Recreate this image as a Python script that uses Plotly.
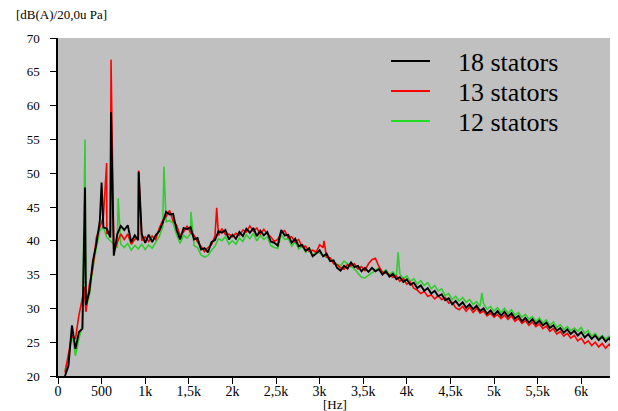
import numpy as np
import plotly.graph_objects as go

# ---------------- data ----------------
grid_start_hz = 80
grid_step_hz = 40

level_18 = [
    20.0, 21.5, 27.5, 24.0, 26.5, 27.0, 30.5, 32.5, 37.0, 39.5,
    43.0, 42.0, 41.8, 40.5, 37.8, 41.0, 42.2, 41.6, 42.3, 39.8,
    40.8, 40.1, 41.0, 39.7, 40.9, 39.8, 40.8, 41.4, 42.6, 44.3,
    43.9, 44.0, 41.6, 40.2, 41.9, 41.7, 42.0, 40.2, 40.4, 38.7,
    38.9, 38.3, 39.8, 40.1, 41.4, 41.2, 41.6, 40.2, 40.9, 40.3,
    41.3, 40.7, 41.8, 41.2, 41.9, 40.7, 41.5, 40.8, 41.3, 39.9,
    39.7, 39.3, 41.6, 40.8, 40.9, 39.7, 40.3, 39.2, 39.4, 38.5,
    38.9, 37.7, 38.1, 38.6, 37.7, 38.1, 37.0, 37.1, 36.0, 35.6,
    36.3, 35.9, 36.8, 36.1, 36.3, 35.5, 36.0, 35.4, 36.0, 35.5,
    35.8, 35.0, 35.5, 34.7, 35.1, 34.3, 34.6, 33.9, 34.3, 33.5,
    33.8, 33.0, 33.4, 32.6, 33.0, 32.2, 32.6, 31.8, 32.1, 31.2,
    31.5, 30.6, 31.1, 30.4, 30.9, 30.1, 30.6, 29.9, 30.4, 29.6,
    30.0, 29.2, 29.7, 29.0, 29.6, 28.9, 29.5, 28.8, 29.3, 28.5,
    28.9, 28.1, 28.6, 27.9, 28.4, 27.7, 28.2, 27.5, 27.9, 27.1,
    27.5, 26.7, 27.1, 26.4, 26.9, 26.2, 26.7, 26.0, 26.5, 25.7,
    26.2, 25.5, 26.0, 25.3, 25.8, 25.1, 25.6, 24.8, 25.3,
]
level_13 = [
    20.5, 23.5, 26.0, 25.5, 29.0, 31.5, 29.5, 33.5, 36.0, 40.5,
    42.0, 43.5, 41.0, 41.5, 38.5, 39.8, 41.0, 40.2, 41.0, 39.5,
    40.2, 40.5, 40.0, 40.6, 39.9, 40.7, 40.2, 41.8, 43.0, 43.6,
    44.5, 42.9, 42.3, 40.8, 41.3, 42.2, 41.2, 40.8, 39.8, 39.2,
    38.4, 39.0, 39.4, 40.7, 40.8, 41.8, 40.9, 41.0, 40.6, 41.1,
    40.8, 41.6, 41.3, 42.2, 41.4, 41.9, 41.0, 41.7, 41.0, 40.6,
    39.9, 40.2, 41.2, 41.5, 40.4, 40.6, 39.8, 40.2, 39.1, 39.2,
    38.4, 38.6, 38.3, 39.4, 39.0, 37.6, 37.5, 36.6, 36.5, 36.0,
    35.8, 36.5, 36.3, 36.6, 35.8, 36.2, 35.6, 36.6, 37.2, 37.4,
    36.2, 35.4, 35.2, 35.0, 34.6, 34.8, 34.0, 34.4, 33.6, 33.9,
    33.0, 32.7, 32.2, 32.5, 31.8, 32.0, 31.4, 31.9, 31.3, 31.6,
    30.8, 30.9, 30.1, 29.8, 30.3, 29.6, 30.2, 29.4, 30.0, 29.3,
    29.6, 28.9, 29.3, 28.7, 29.1, 28.5, 29.0, 28.4, 28.9, 28.1,
    28.5, 27.8, 28.2, 27.5, 28.0, 27.3, 27.7, 27.0, 27.4, 26.6,
    27.0, 26.2, 26.6, 25.9, 26.3, 25.6, 26.0, 25.2, 25.6, 24.8,
    25.2, 24.5, 25.0, 24.3, 24.8, 24.1, 24.7, 24.0, 24.6,
]
level_12 = [
    20.8, 22.5, 26.5, 23.0, 25.5, 27.5, 30.0, 32.0, 36.0, 39.0,
    41.5, 42.0, 40.5, 40.0, 39.5, 39.0, 39.5, 39.0, 39.6, 38.6,
    39.3, 38.8, 39.5, 38.7, 39.4, 38.9, 39.8, 40.6, 42.0, 42.8,
    43.0, 42.6, 40.9, 39.6, 40.8, 40.4, 41.0, 39.3, 39.0, 37.9,
    37.6, 37.8, 38.6, 39.2, 40.3, 40.0, 40.6, 39.5, 40.0, 39.5,
    40.4, 39.9, 40.9, 40.3, 41.1, 40.0, 40.8, 40.2, 40.6, 39.3,
    39.0, 38.9, 40.9, 40.2, 40.3, 39.2, 39.9, 38.8, 39.2, 38.3,
    38.9, 37.8, 38.3, 38.2, 37.9, 37.6, 37.3, 36.9, 36.5, 36.3,
    37.0, 36.6, 36.2, 35.8, 35.2, 34.6, 34.5, 34.9, 35.3, 35.6,
    36.0, 35.3, 35.7, 35.0, 35.4, 34.7, 35.1, 34.4, 34.8, 34.0,
    34.4, 33.6, 34.1, 33.4, 33.8, 32.9, 33.4, 32.6, 32.9, 31.9,
    32.2, 31.3, 31.8, 31.1, 31.6, 30.9, 31.3, 30.6, 31.0, 30.3,
    30.7, 29.9, 30.3, 29.6, 30.1, 29.4, 30.0, 29.3, 29.8, 29.0,
    29.4, 28.7, 29.1, 28.4, 28.8, 28.1, 28.6, 27.9, 28.3, 27.5,
    28.0, 27.2, 27.6, 26.9, 27.3, 26.7, 27.1, 26.6, 27.2, 26.3,
    26.7, 25.9, 26.3, 25.6, 26.0, 25.5, 25.9, 25.6, 26.8,
]

# tonal peaks (Hz, dB)
peaks_18_hz = [310, 500, 608, 925]
peaks_18_db = [47.9, 48.6, 59.0, 50.2]
peaks_13_hz = [300, 558, 608, 925, 1820, 3050]
peaks_13_db = [33.2, 51.5, 66.8, 50.4, 44.9, 40.0]
peaks_12_hz = [310, 690, 1215, 1525, 3900, 4860]
peaks_12_db = [55.0, 46.3, 51.0, 44.3, 38.3, 32.3]

series_names = ["18 stators", "13 stators", "12 stators"]
series_colors = ["#000000", "#FF0000", "#33CC33"]

x_tickvals = [0, 500, 1000, 1500, 2000, 2500, 3000, 3500, 4000, 4500, 5000, 5500, 6000]
x_ticktext = ["0", "500", "1k", "1,5k", "2k", "2,5k", "3k", "3,5k", "4k", "4,5k", "5k", "5,5k", "6k"]
y_tickvals = [20, 25, 30, 35, 40, 45, 50, 55, 60, 65, 70]


def build(levels, pk_hz, pk_db):
    f = list(grid_start_hz + grid_step_hz * np.arange(len(levels)))
    pts = list(zip(f, levels)) + list(zip(pk_hz, pk_db))
    pts.sort(key=lambda p: p[0])
    return [p[0] for p in pts], [p[1] for p in pts]


s18 = build(level_18, peaks_18_hz, peaks_18_db)
s13 = build(level_13, peaks_13_hz, peaks_13_db)
s12 = build(level_12, peaks_12_hz, peaks_12_db)

FONT = "Times New Roman"

fig = go.Figure()
# draw order: green, red, black on top
for (xs, ys), name, col, w in [(s12, series_names[2], series_colors[2], 1.6),
                               (s13, series_names[1], series_colors[1], 1.6),
                               (s18, series_names[0], series_colors[0], 1.9)]:
    fig.add_trace(go.Scatter(x=xs, y=ys, mode="lines", name=name,
                             line=dict(color=col, width=w),
                             showlegend=False, hoverinfo="skip"))

# page body adds an 8 px offset; size the figure so the picture lands like the reference
OFF = 8
W, H = 618 - OFF, 411 - OFF
ml, mr, mt, mb = 58 - OFF, 1, 38 - OFF, H - (376 - OFF)
pw, ph = W - ml - mr, H - mt - mb


def px_x(px):
    return (px - OFF - ml) / pw


def px_y(py):
    return (H - mb - (py - OFF)) / ph


shapes = []
annotations = []
legend_rows_y = [61, 91, 121]
for i, name in enumerate(series_names):
    shapes.append(dict(type="line", xref="paper", yref="paper",
                       x0=px_x(391), x1=px_x(430),
                       y0=px_y(legend_rows_y[i]), y1=px_y(legend_rows_y[i]),
                       line=dict(color=series_colors[i] if i < 2 else "#22DD22", width=2)))
    annotations.append(dict(text=name, xref="paper", yref="paper",
                            x=px_x(456), y=px_y(legend_rows_y[i] + 1),
                            xanchor="left", yanchor="middle", showarrow=False,
                            font=dict(family=FONT, size=26)))

annotations.append(dict(text="[dB(A)/20,0u Pa]", xref="paper", yref="paper",
                        x=px_x(14), y=px_y(15), xanchor="left", yanchor="middle",
                        showarrow=False, font=dict(family=FONT, size=13)))
annotations.append(dict(text="[Hz]", xref="paper", yref="paper",
                        x=px_x(335), y=px_y(404), xanchor="center", yanchor="middle",
                        showarrow=False, font=dict(family=FONT, size=13)))

fig.update_layout(
    width=W, height=H,
    margin=dict(l=ml, r=mr, t=mt, b=mb, pad=0),
    paper_bgcolor="#FFFFFF", plot_bgcolor="#C0C0C0",
    shapes=shapes, annotations=annotations,
    showlegend=False,
    font=dict(family=FONT, size=13, color="#000000"),
)
fig.update_xaxes(range=[0, 6410], tickvals=x_tickvals, ticktext=x_ticktext,
                 showgrid=False, zeroline=False, showline=True, linecolor="#000000",
                 linewidth=1.5, ticks="outside", ticklen=6, tickcolor="#000000",
                 ticklabelstandoff=-5,
                 tickfont=dict(family=FONT, size=14), fixedrange=True)
fig.update_yaxes(range=[20, 70], tickvals=y_tickvals,
                 showgrid=False, zeroline=False, showline=True, linecolor="#000000",
                 linewidth=1.5, ticks="outside", ticklen=6, tickcolor="#000000",
                 ticklabelstandoff=8,
                 tickfont=dict(family=FONT, size=13), fixedrange=True)

fig.write_html("out.html")
